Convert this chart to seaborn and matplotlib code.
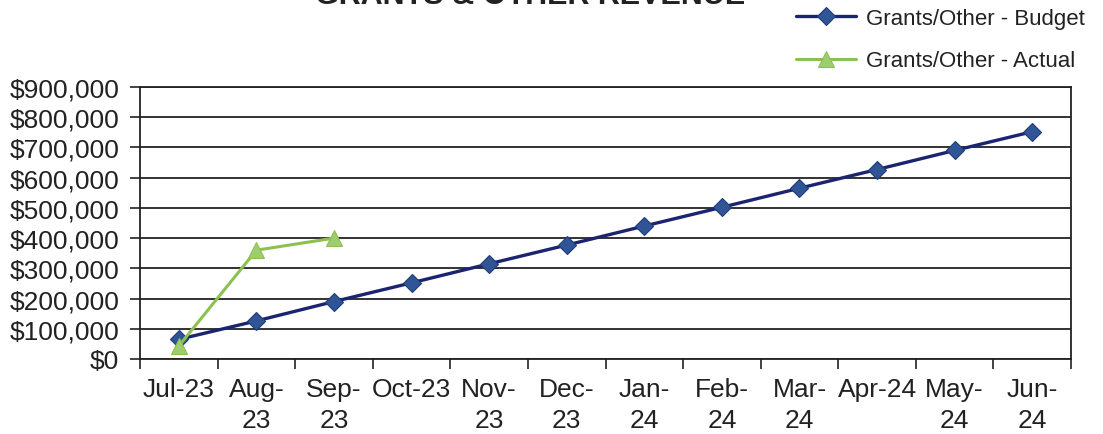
import numpy as np
import pandas as pd
import matplotlib
matplotlib.use("Agg")
import matplotlib.pyplot as plt
from matplotlib.ticker import FuncFormatter, FixedLocator
import seaborn as sns

# Fiscal-year months and cumulative revenue
months = ["Jul-23", "Aug-\n23", "Sep-\n23", "Oct-23", "Nov-\n23", "Dec-\n23",
          "Jan-\n24", "Feb-\n24", "Mar-\n24", "Apr-24", "May-\n24", "Jun-\n24"]
budget = [65000, 126000, 190000, 252000, 315000, 377000,
          440000, 502000, 565000, 627000, 690000, 752000]
actual = [43000, 360000, 400000]

sns.set_theme(style="white")
plt.rcParams["font.family"] = ["Liberation Sans", "DejaVu Sans"]

W, H = 1103, 435
fig = plt.figure(figsize=(W / 100, H / 100), dpi=100)
ax = fig.add_axes([140 / W, 1 - 360 / H, (1071 - 140) / W, (360 - 88) / H])

df_b = pd.DataFrame({"x": np.arange(len(budget)), "y": budget})
df_a = pd.DataFrame({"x": np.arange(len(actual)), "y": actual})

sns.lineplot(data=df_b, x="x", y="y", ax=ax, color="#1b2470", linewidth=2.4,
             marker="D", markersize=9, markerfacecolor="#2f5597",
             markeredgecolor="#1f3c78", markeredgewidth=0.8,
             label="Grants/Other - Budget", legend=False, zorder=3)
sns.lineplot(data=df_a, x="x", y="y", ax=ax, color="#8cc152", linewidth=2.2,
             marker="^", markersize=12, markerfacecolor="#9fcd6e",
             markeredgecolor="#8cc152", markeredgewidth=0.8,
             label="Grants/Other - Actual", legend=False, zorder=4)

ax.set_xlim(-0.5, len(months) - 0.5)
ax.set_ylim(0, 900000)
ax.set_xlabel("")
ax.set_ylabel("")

# Tick marks sit between months; labels sit under each month
ax.xaxis.set_major_locator(FixedLocator(np.arange(len(months) + 1) - 0.5))
ax.xaxis.set_major_formatter(FuncFormatter(lambda v, p: ""))
ax.xaxis.set_minor_locator(FixedLocator(np.arange(len(months))))
ax.set_xticklabels(months, minor=True, fontsize=19, color="#222222",
                   ha="center", linespacing=1.35)
ax.tick_params(axis="x", which="major", direction="out", length=7, width=1.2,
               color="#222222", bottom=True)
ax.tick_params(axis="x", which="minor", length=0, pad=13)

ax.set_yticks(np.arange(0, 900001, 100000))
ax.yaxis.set_major_formatter(FuncFormatter(lambda v, p: f"${int(v):,}"))
ax.tick_params(axis="y", direction="out", length=7, width=1.2, color="#222222",
               labelsize=19, labelcolor="#222222", pad=8, left=True)

ax.grid(axis="y", color="#222222", linewidth=1.3)
ax.set_axisbelow(True)
for s in ax.spines.values():
    s.set_visible(True)
    s.set_color("#222222")
    s.set_linewidth(1.3)

handles, labels = ax.get_legend_handles_labels()
fig.legend(handles, labels, loc="upper left",
           bbox_to_anchor=(794 / W, 1 - 7 / H), frameon=False,
           fontsize=16, handlelength=2.7, handletextpad=0.45,
           labelspacing=0.95, borderaxespad=0, borderpad=0.1,
           labelcolor="#222222")

fig.text(530 / W, 1 - 4 / H, "GRANTS & OTHER REVENUE", ha="center",
         va="baseline", fontsize=22, fontweight="bold", color="#222222")

fig.savefig("out.png", dpi=100, facecolor="white")
